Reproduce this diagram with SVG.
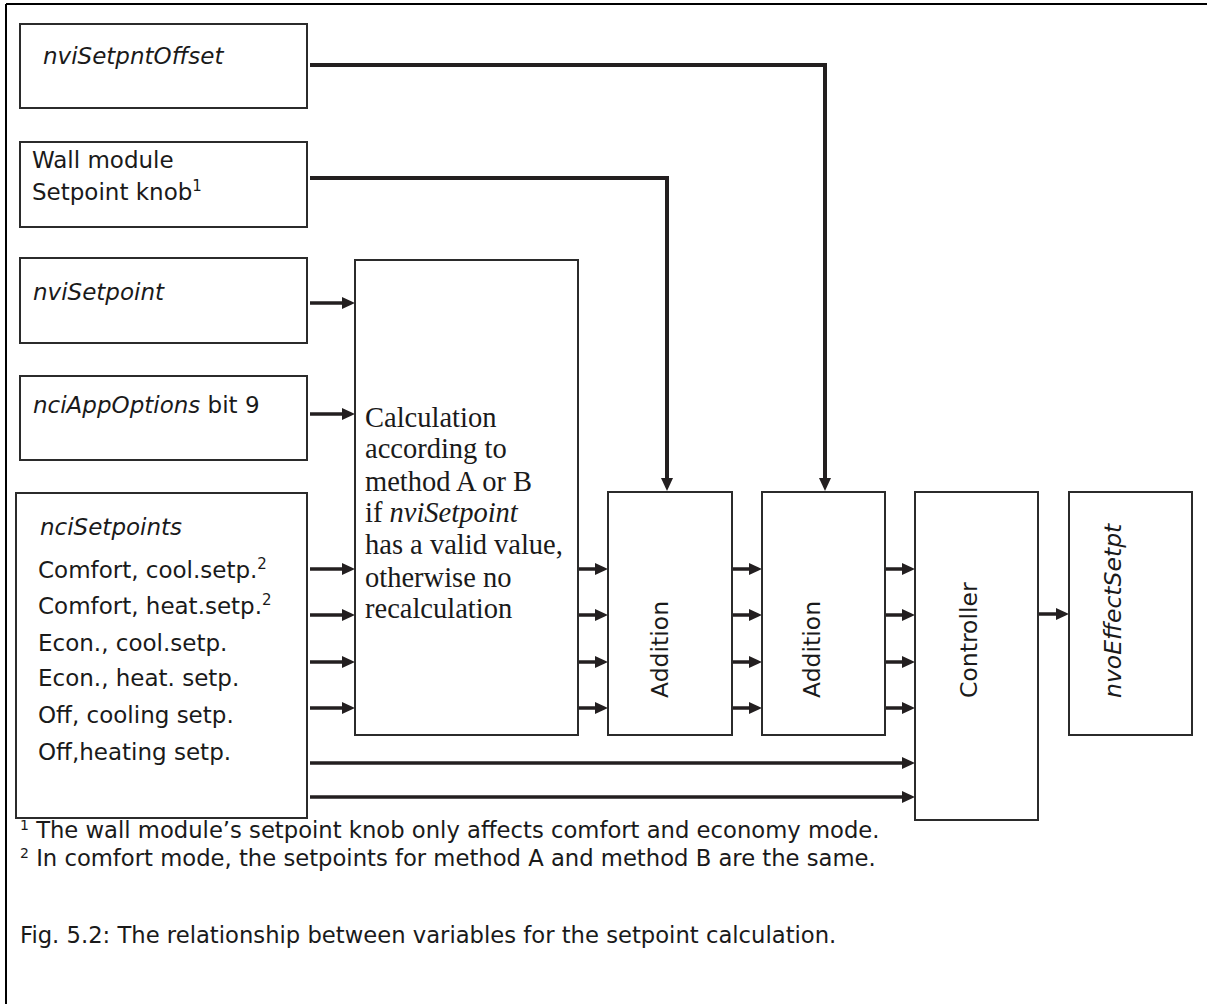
<svg xmlns="http://www.w3.org/2000/svg" width="1207" height="1004" viewBox="0 0 1207 1004">
<style>
.box{fill:#fff;stroke:#2b2b2b;stroke-width:2}
.t{font-family:"DejaVu Sans","Liberation Sans",sans-serif;font-size:23px;fill:#1a1a1a}
.v{font-family:"DejaVu Sans","Liberation Sans",sans-serif;font-size:23.5px;fill:#1a1a1a}
.i{font-style:italic}
.s{font-family:"Liberation Serif","Times New Roman",serif;font-size:28.5px;fill:#1a1a1a}
.fn{font-family:"DejaVu Sans","Liberation Sans",sans-serif;font-size:22.7px;fill:#1a1a1a}
.w{fill:none;stroke:#231f20;stroke-width:3.5}
.l{fill:none;stroke:#231f20;stroke-width:4}
</style>
<defs>
<marker id="ah" viewBox="0 -6 13 12" refX="1" refY="0" markerWidth="13" markerHeight="12" markerUnits="userSpaceOnUse" orient="auto">
<path d="M0,-6 L13,0 L0,6 z" fill="#231f20"/>
</marker>
</defs>
<rect width="1207" height="1004" fill="#fff"/>
<g id="frame">
<path d="M6,4 H1207 M6,4 V1004" fill="none" stroke="#000" stroke-width="2"/>
</g>

<g id="connectors">
<path class="l" d="M310,65 H825 V479" marker-end="url(#ah)"/>
<path class="l" d="M310,178 H667 V479" marker-end="url(#ah)"/>
<path class="w" d="M310,303 H343" marker-end="url(#ah)"/>
<path class="w" d="M310,414 H343" marker-end="url(#ah)"/>
<path class="w" d="M310,569 H343" marker-end="url(#ah)"/>
<path class="w" d="M310,615 H343" marker-end="url(#ah)"/>
<path class="w" d="M310,662 H343" marker-end="url(#ah)"/>
<path class="w" d="M310,708 H343" marker-end="url(#ah)"/>
<path class="w" d="M310,763 H903" marker-end="url(#ah)"/>
<path class="w" d="M310,797 H903" marker-end="url(#ah)"/>
<path class="w" d="M579,569 H596" marker-end="url(#ah)"/>
<path class="w" d="M579,615 H596" marker-end="url(#ah)"/>
<path class="w" d="M579,662 H596" marker-end="url(#ah)"/>
<path class="w" d="M579,708 H596" marker-end="url(#ah)"/>
<path class="w" d="M733,569 H750" marker-end="url(#ah)"/>
<path class="w" d="M733,615 H750" marker-end="url(#ah)"/>
<path class="w" d="M733,662 H750" marker-end="url(#ah)"/>
<path class="w" d="M733,708 H750" marker-end="url(#ah)"/>
<path class="w" d="M886,569 H903" marker-end="url(#ah)"/>
<path class="w" d="M886,615 H903" marker-end="url(#ah)"/>
<path class="w" d="M886,662 H903" marker-end="url(#ah)"/>
<path class="w" d="M886,708 H903" marker-end="url(#ah)"/>
<path class="w" d="M1039,614 H1057" marker-end="url(#ah)"/>
</g>

<g id="nviSetpntOffset">
<rect class="box" x="20" y="24" width="287" height="84"/>
<text class="t i" x="43" y="64">nviSetpntOffset</text>
</g>
<g id="wallModule">
<rect class="box" x="20" y="142" width="287" height="85"/>
<text class="t" x="32" y="168">Wall module</text>
<text class="t" x="32" y="200">Setpoint knob<tspan font-size="15" dy="-9">1</tspan></text>
</g>
<g id="nviSetpoint">
<rect class="box" x="20" y="258" width="287" height="85"/>
<text class="t i" x="33" y="300">nviSetpoint</text>
</g>
<g id="nciAppOptions">
<rect class="box" x="20" y="376" width="287" height="84"/>
<text class="t" x="33" y="413"><tspan class="i">nciAppOptions</tspan> bit 9</text>
</g>
<g id="nciSetpoints">
<rect class="box" x="16" y="493" width="291" height="325"/>
<text class="t i" x="40" y="535">nciSetpoints</text>
<text class="t" x="38" y="578">Comfort, cool.setp.<tspan font-size="15" dy="-9">2</tspan></text>
<text class="t" x="38" y="614">Comfort, heat.setp.<tspan font-size="15" dy="-9">2</tspan></text>
<text class="t" x="38" y="651">Econ., cool.setp.</text>
<text class="t" x="38" y="686">Econ., heat. setp.</text>
<text class="t" x="38" y="723">Off, cooling setp.</text>
<text class="t" x="38" y="760">Off,heating setp.</text>
</g>
<g id="calculation">
<rect class="box" x="355" y="260" width="223" height="475"/>
<text class="s" x="365" y="427">Calculation</text>
<text class="s" x="365" y="458">according to</text>
<text class="s" x="365" y="491">method A or B</text>
<text class="s" x="365" y="522">if <tspan font-style="italic">nviSetpoint</tspan></text>
<text class="s" x="365" y="554">has a valid value,</text>
<text class="s" x="365" y="587">otherwise no</text>
<text class="s" x="365" y="618">recalculation</text>
</g>
<g id="addition1">
<rect class="box" x="608" y="492" width="124" height="243"/>
<text class="v" transform="translate(668,698) rotate(-90)">Addition</text>
</g>
<g id="addition2">
<rect class="box" x="762" y="492" width="123" height="243"/>
<text class="v" transform="translate(820,698) rotate(-90)">Addition</text>
</g>
<g id="controller">
<rect class="box" x="915" y="492" width="123" height="328"/>
<text class="v" transform="translate(977,698) rotate(-90)">Controller</text>
</g>
<g id="nvoEffectSetpt">
<rect class="box" x="1069" y="492" width="123" height="243"/>
<text class="v i" transform="translate(1121,698) rotate(-90)">nvoEffectSetpt</text>
</g>

<g id="notes">
<text class="fn" x="20" y="838"><tspan font-size="14" dy="-8">1</tspan><tspan dy="8"> The wall module’s setpoint knob only affects comfort and economy mode.</tspan></text>
<text class="fn" x="20" y="866"><tspan font-size="14" dy="-8">2</tspan><tspan dy="8"> In comfort mode, the setpoints for method A and method B are the same.</tspan></text>
<text class="fn" x="20" y="943">Fig. 5.2: The relationship between variables for the setpoint calculation.</text>
</g>
</svg>
